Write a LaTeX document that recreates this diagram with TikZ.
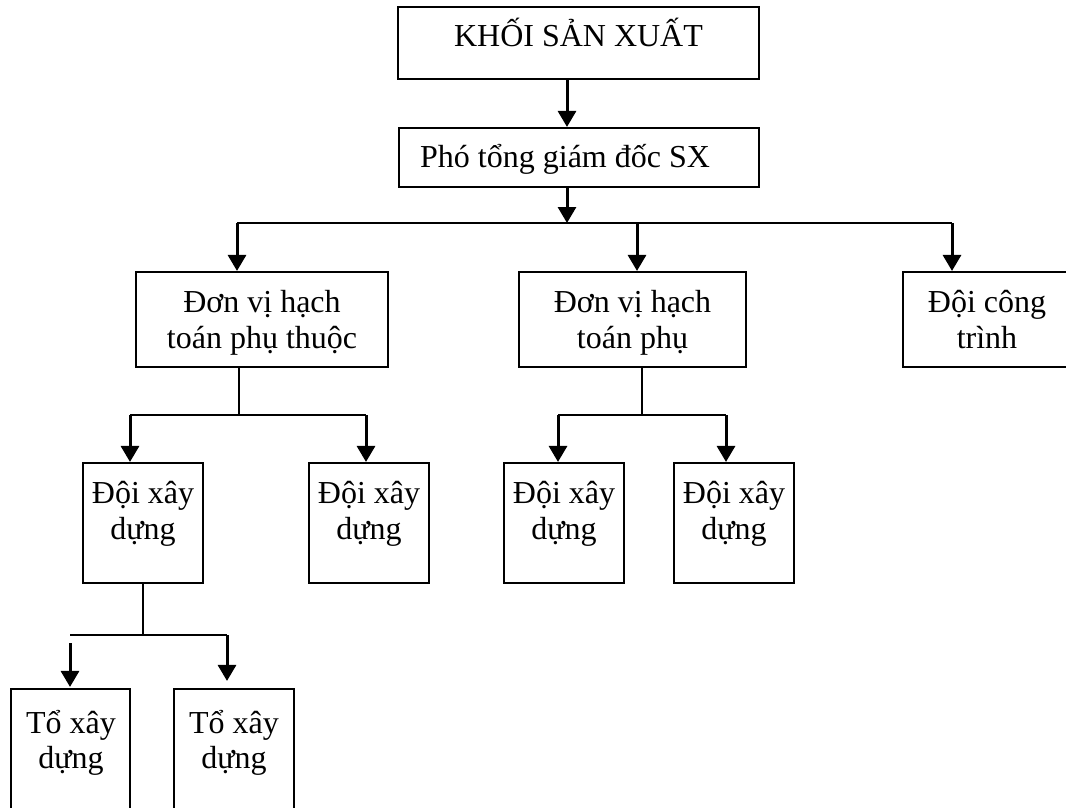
\documentclass[tikz,border=0pt]{standalone}
\usepackage{fontspec}
\setmainfont{Liberation Serif}
\usetikzlibrary{arrows.meta,calc}

\begin{document}
\begin{tikzpicture}[x=1pt,y=-1pt,
  box/.style={draw, line width=2.1pt, inner sep=0pt},
  lbl/.style={inner sep=0pt, anchor=base, font=\fontsize{32}{36}\selectfont},
  arr/.style={line width=3pt, -{Triangle[width=18pt,length=16pt]}},
  link/.style={line width=2pt}]
\useasboundingbox (0,0) rectangle (1066,808);
\clip (0,0) rectangle (1066,808);

% boxes
\node[box, minimum width=361pt, minimum height=72pt] (top) at (578.5,43) {};
\node[box, minimum width=360pt, minimum height=59pt] (pho) at (579,157.5) {};
\node[box, minimum width=252pt, minimum height=95pt] (dv1) at (262,319.5) {};
\node[box, minimum width=227pt, minimum height=95pt] (dv2) at (632.5,319.5) {};
\node[box, minimum width=168pt, minimum height=95pt] (dct) at (987,319.5) {};
\node[box, minimum width=120pt, minimum height=120pt] (d1) at (143,523) {};
\node[box, minimum width=120pt, minimum height=120pt] (d2) at (369,523) {};
\node[box, minimum width=120pt, minimum height=120pt] (d3) at (564,523) {};
\node[box, minimum width=120pt, minimum height=120pt] (d4) at (734,523) {};
\node[box, minimum width=119pt, minimum height=126pt] (t1) at (70.5,752) {};
\node[box, minimum width=120pt, minimum height=126pt] (t2) at (234,752) {};

% labels
\node[lbl] (topA) at (578.5,47) {KHỐI SẢN XUẤT};
\node[lbl, anchor=base west] (phoA) at (420,167) {Phó tổng giám đốc SX};
\node[lbl] (dv1A) at (262,312) {Đơn vị hạch};
\node[lbl] (dv1B) at (262,348) {toán phụ thuộc};
\node[lbl] (dv2A) at (632.5,312) {Đơn vị hạch};
\node[lbl] (dv2B) at (632.5,348) {toán phụ};
\node[lbl] (dctA) at (987,312) {Đội công};
\node[lbl] (dctB) at (987,348) {trình};
\node[lbl] (d1A) at (143,503) {Đội xây};
\node[lbl] (d1B) at (143,539) {dựng};
\node[lbl] (d2A) at (369,503) {Đội xây};
\node[lbl] (d2B) at (369,539) {dựng};
\node[lbl] (d3A) at (564,503) {Đội xây};
\node[lbl] (d3B) at (564,539) {dựng};
\node[lbl] (d4A) at (734,503) {Đội xây};
\node[lbl] (d4B) at (734,539) {dựng};
\node[lbl] (t1A) at (71,733) {Tổ xây};
\node[lbl] (t1B) at (71,768) {dựng};
\node[lbl] (t2A) at (234,733) {Tổ xây};
\node[lbl] (t2B) at (234,768) {dựng};

% top chain
\coordinate (c1) at (567,0);
\coordinate (bus) at (0,223);
\draw[arr] (c1 |- top.south) -- (c1 |- pho.north);
\draw[arr] (c1 |- pho.south) -- (c1 |- bus);

% distribution bus
\coordinate (b1) at (237,223);
\coordinate (b2) at (637,223);
\coordinate (b3) at (952,223);
\draw[link] (b1) -- (b3);
\draw[arr] (b1) -- (b1 |- dv1.north);
\draw[arr] (b2) -- (b2 |- dv2.north);
\draw[arr] (b3) -- (b3 |- dct.north);

% branch under the first unit
\coordinate (s1) at (239,415);
\coordinate (s1l) at (130,415);
\coordinate (s1r) at (366,415);
\draw[link] (s1 |- dv1.south) -- (s1);
\draw[link] (s1l) -- (s1r);
\draw[arr] (s1l) -- (s1l |- d1.north);
\draw[arr] (s1r) -- (s1r |- d2.north);

% branch under the second unit
\coordinate (s2) at (642,415);
\coordinate (s2l) at (558,415);
\coordinate (s2r) at (726,415);
\draw[link] (s2 |- dv2.south) -- (s2);
\draw[link] (s2l) -- (s2r);
\draw[arr] (s2l) -- (s2l |- d3.north);
\draw[arr] (s2r) -- (s2r |- d4.north);

% branch under the first team
\coordinate (s3) at (143,635);
\coordinate (s3l) at (70,635);
\coordinate (s3r) at (227,635);
\coordinate (t1in) at (70,643);
\draw[link] (s3 |- d1.south) -- (s3);
\draw[link] (s3l) -- (s3r);
\draw[arr] (t1in) -- ($(t1.north -| t1in)+(0,-1)$);
\draw[arr] (s3r) -- ($(t2.north -| s3r)+(0,-7)$);
\end{tikzpicture}
\end{document}
